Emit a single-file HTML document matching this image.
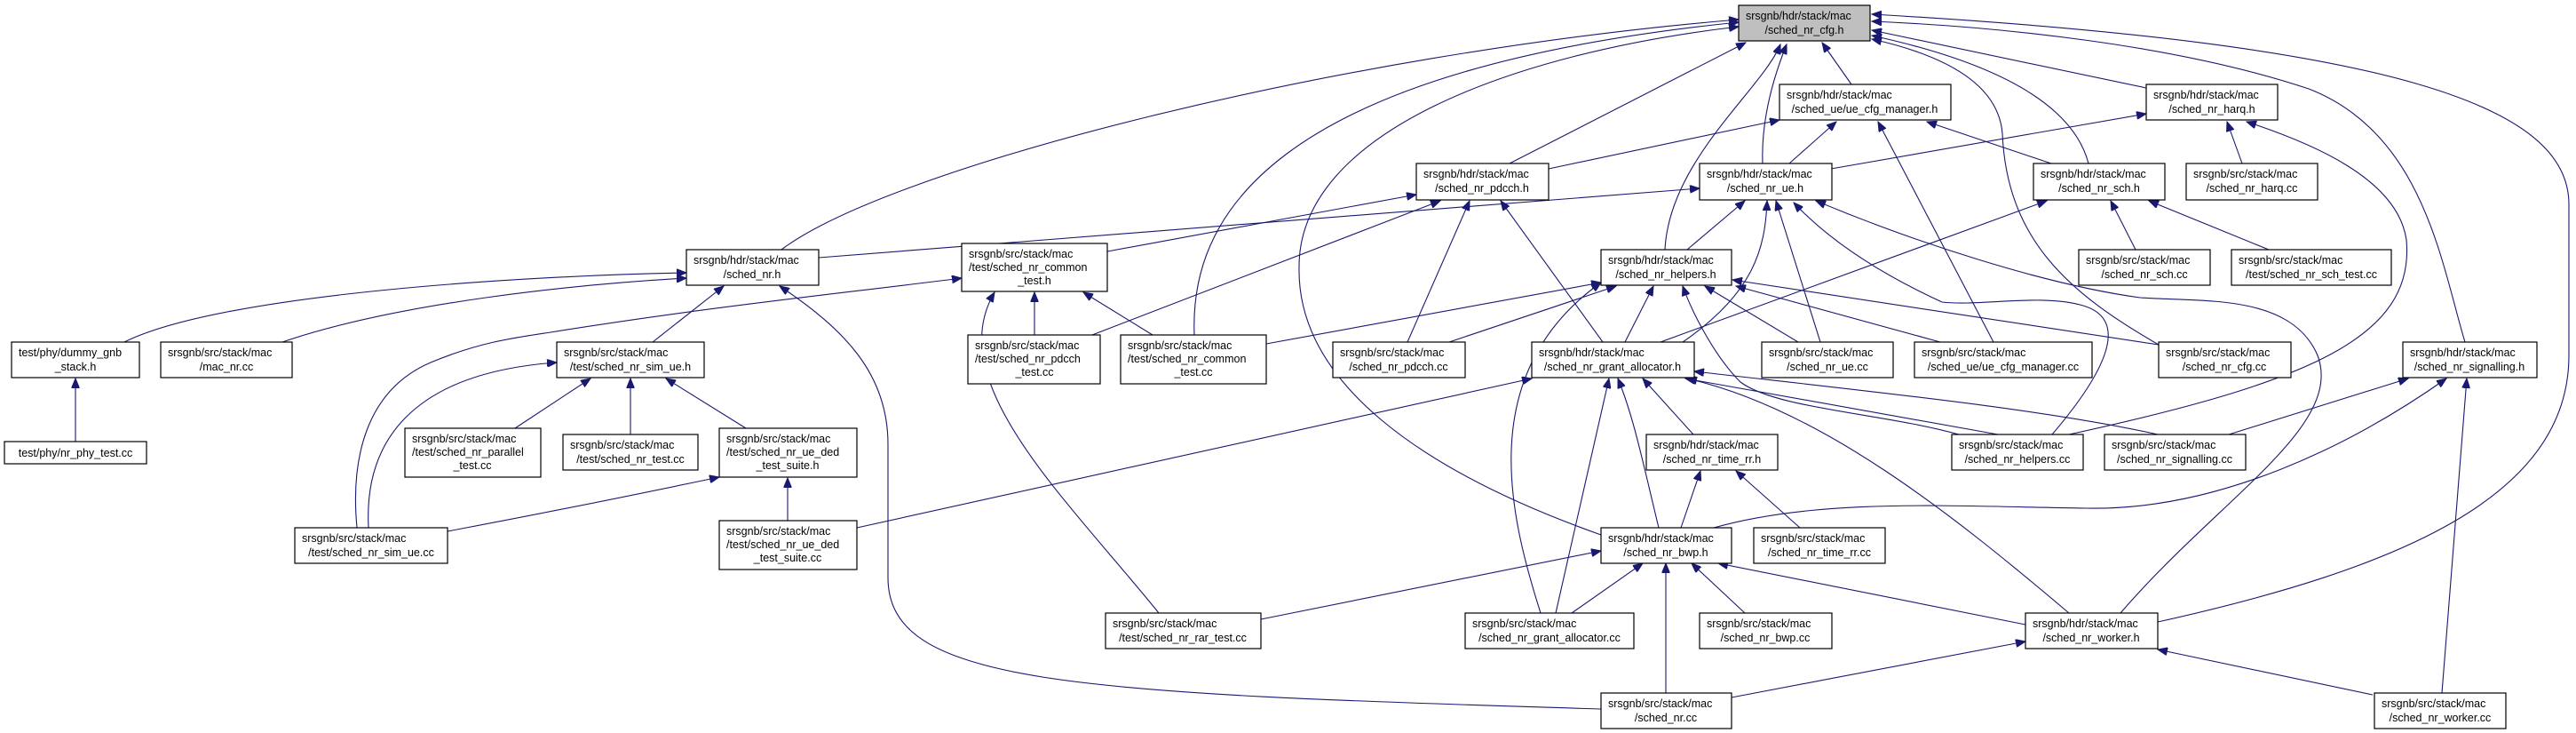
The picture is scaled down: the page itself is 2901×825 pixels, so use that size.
<!DOCTYPE html>
<html><head><meta charset="utf-8"><style>
html,body{margin:0;padding:0;background:#fff;}
svg{display:block;}
text{font-family:"Liberation Sans",sans-serif;font-size:12.5px;fill:#000;}
.n{fill:#fff;stroke:#000;stroke-width:1.2;}
.g{fill:#bfbfbf;stroke:#000;stroke-width:1.2;}
path.e{fill:none;stroke:#191970;stroke-width:1.1;marker-end:url(#a);}
</style></head><body>
<svg width="2901" height="825" viewBox="0 0 2901 825" xmlns="http://www.w3.org/2000/svg">
<defs><marker id="a" markerUnits="userSpaceOnUse" markerWidth="12" markerHeight="9" refX="11" refY="4.5" orient="auto"><path d="M0,0 L11,4.5 L0,9 z" fill="#191970" stroke="#191970"/></marker></defs>
<g>
<path class="e" d="M880,281 C1000,190 1500,60 1958,22"/>
<path class="e" d="M1345,377 C1340,250 1420,80 1958,25"/>
<path class="e" d="M1803,602 C1600,530 1460,430 1463,300 C1463,150 1700,60 1958,30"/>
<path class="e" d="M1700,184 L1966,48"/>
<path class="e" d="M1875,281 C1880,180 1985,100 2005,50"/>
<path class="e" d="M1985,184 C1983,130 2000,80 2012,50"/>
<path class="e" d="M2085,95 L2052,48"/>
<path class="e" d="M2417,99 L2108,34"/>
<path class="e" d="M2352,184 C2330,100 2200,60 2108,40"/>
<path class="e" d="M2431,388 C2330,330 2260,270 2255,150 C2250,90 2180,60 2108,44"/>
<path class="e" d="M2776,385 C2750,300 2730,150 2600,100 C2450,50 2250,30 2108,24"/>
<path class="e" d="M2430,700 C2700,640 2893,560 2893,400 L2893,230 C2893,120 2700,50 2108,16"/>
<path class="e" d="M2015,184 L2068,137"/>
<path class="e" d="M1744,190 L2004,135"/>
<path class="e" d="M2310,184 L2170,137"/>
<path class="e" d="M2245,385 L2115,137"/>
<path class="e" d="M2062,190 L2417,128"/>
<path class="e" d="M2525,184 L2508,137"/>
<path class="e" d="M2330,489 C2600,430 2720,380 2710,270 C2700,200 2600,160 2530,137"/>
<path class="e" d="M2405,281 L2377,226"/>
<path class="e" d="M2555,281 L2420,226"/>
<path class="e" d="M1870,385 L2305,226"/>
<path class="e" d="M1247,283 L1595,219"/>
<path class="e" d="M1230,377 L1622,226"/>
<path class="e" d="M1585,385 L1655,226"/>
<path class="e" d="M1805,385 L1690,226"/>
<path class="e" d="M922,290 L1914,212"/>
<path class="e" d="M1900,281 L1965,226"/>
<path class="e" d="M1895,385 C1975,330 1988,280 1990,226"/>
<path class="e" d="M2050,385 L2000,226"/>
<path class="e" d="M2311,489 C2370,420 2400,360 2346,344 C2300,330 2230,345 2187,340 C2100,300 2050,260 2020,228"/>
<path class="e" d="M2388,690 C2500,560 2640,480 2610,400 C2580,330 2480,340 2410,335 C2300,320 2150,270 2045,226"/>
<path class="e" d="M140,385 C250,330 600,310 773,307"/>
<path class="e" d="M318,385 C450,340 650,320 773,313"/>
<path class="e" d="M735,385 L815,322"/>
<path class="e" d="M1803,798 C1200,780 1000,770 1000,650 L1000,500 C1000,420 950,370 878,322"/>
<path class="e" d="M580,482 L665,426"/>
<path class="e" d="M710,489 L710,426"/>
<path class="e" d="M840,482 L750,426"/>
<path class="e" d="M415,594 C410,500 460,420 627,408"/>
<path class="e" d="M402,594 C395,520 410,440 485,408 C540,385 580,380 620,374 C800,345 950,330 1083,313"/>
<path class="e" d="M504,598 C600,580 700,560 810,537"/>
<path class="e" d="M887,586 L887,538"/>
<path class="e" d="M965,594 L1725,426"/>
<path class="e" d="M1165,377 L1165,329"/>
<path class="e" d="M1298,377 L1220,329"/>
<path class="e" d="M1305,690 C1200,560 1060,430 1120,329"/>
<path class="e" d="M1426,387 L1803,318"/>
<path class="e" d="M1632,385 L1820,322"/>
<path class="e" d="M1830,385 L1862,322"/>
<path class="e" d="M1735,690 C1700,580 1660,420 1803,318"/>
<path class="e" d="M2025,385 L1920,322"/>
<path class="e" d="M2185,385 L1955,322"/>
<path class="e" d="M2431,388 L1951,315"/>
<path class="e" d="M2206,489 C2120,465 2000,460 1960,430 C1930,400 1905,350 1895,322"/>
<path class="e" d="M1907,489 L1850,426"/>
<path class="e" d="M1868,594 C1850,520 1840,470 1822,426"/>
<path class="e" d="M1752,690 L1812,426"/>
<path class="e" d="M2250,489 L1898,426"/>
<path class="e" d="M2430,489 C2300,460 2100,440 1908,418"/>
<path class="e" d="M2330,690 C2200,580 2050,460 1900,426"/>
<path class="e" d="M1893,594 L1915,530"/>
<path class="e" d="M2027,594 L1955,530"/>
<path class="e" d="M1420,697 L1803,620"/>
<path class="e" d="M1770,690 L1850,634"/>
<path class="e" d="M1876,780 L1876,634"/>
<path class="e" d="M1965,690 L1905,634"/>
<path class="e" d="M2281,703 L1935,634"/>
<path class="e" d="M1930,594 C2050,560 2200,570 2350,572 C2500,575 2650,500 2755,426"/>
<path class="e" d="M1950,785 L2281,722"/>
<path class="e" d="M2672,782 L2430,731"/>
<path class="e" d="M2510,489 L2712,426"/>
<path class="e" d="M2750,780 L2778,426"/>
<path class="e" d="M85,497 L85,426"/>
</g>
<g>
<rect class="g" x="1958" y="6" width="148" height="40"/><text x="1966" y="22">srsgnb/hdr/stack/mac</text><text x="2032" y="38" text-anchor="middle">/sched_nr_cfg.h</text>
<rect class="n" x="2004" y="95" width="193" height="40"/><text x="2012" y="111">srsgnb/hdr/stack/mac</text><text x="2100" y="127" text-anchor="middle">/sched_ue/ue_cfg_manager.h</text>
<rect class="n" x="2417" y="95" width="148" height="40"/><text x="2425" y="111">srsgnb/hdr/stack/mac</text><text x="2491" y="127" text-anchor="middle">/sched_nr_harq.h</text>
<rect class="n" x="1595" y="184" width="149" height="41"/><text x="1603" y="200">srsgnb/hdr/stack/mac</text><text x="1669" y="216" text-anchor="middle">/sched_nr_pdcch.h</text>
<rect class="n" x="1914" y="184" width="149" height="41"/><text x="1922" y="200">srsgnb/hdr/stack/mac</text><text x="1988" y="216" text-anchor="middle">/sched_nr_ue.h</text>
<rect class="n" x="2290" y="184" width="148" height="41"/><text x="2298" y="200">srsgnb/hdr/stack/mac</text><text x="2364" y="216" text-anchor="middle">/sched_nr_sch.h</text>
<rect class="n" x="2462" y="184" width="148" height="41"/><text x="2470" y="200">srsgnb/src/stack/mac</text><text x="2536" y="216" text-anchor="middle">/sched_nr_harq.cc</text>
<rect class="n" x="773" y="281" width="149" height="40"/><text x="781" y="297">srsgnb/hdr/stack/mac</text><text x="847" y="313" text-anchor="middle">/sched_nr.h</text>
<rect class="n" x="1083" y="274" width="164" height="54"/><text x="1091" y="290">srsgnb/src/stack/mac</text><text x="1091" y="305">/test/sched_nr_common</text><text x="1165" y="320" text-anchor="middle">_test.h</text>
<rect class="n" x="1803" y="281" width="147" height="40"/><text x="1811" y="297">srsgnb/hdr/stack/mac</text><text x="1876" y="313" text-anchor="middle">/sched_nr_helpers.h</text>
<rect class="n" x="2341" y="281" width="148" height="40"/><text x="2349" y="297">srsgnb/src/stack/mac</text><text x="2415" y="313" text-anchor="middle">/sched_nr_sch.cc</text>
<rect class="n" x="2513" y="281" width="180" height="40"/><text x="2521" y="297">srsgnb/src/stack/mac</text><text x="2603" y="313" text-anchor="middle">/test/sched_nr_sch_test.cc</text>
<rect class="n" x="13" y="385" width="144" height="40"/><text x="21" y="401">test/phy/dummy_gnb</text><text x="85" y="417" text-anchor="middle">_stack.h</text>
<rect class="n" x="181" y="385" width="148" height="40"/><text x="189" y="401">srsgnb/src/stack/mac</text><text x="255" y="417" text-anchor="middle">/mac_nr.cc</text>
<rect class="n" x="627" y="385" width="166" height="40"/><text x="635" y="401">srsgnb/src/stack/mac</text><text x="710" y="417" text-anchor="middle">/test/sched_nr_sim_ue.h</text>
<rect class="n" x="1090" y="377" width="149" height="55"/><text x="1098" y="393">srsgnb/src/stack/mac</text><text x="1098" y="408">/test/sched_nr_pdcch</text><text x="1165" y="423" text-anchor="middle">_test.cc</text>
<rect class="n" x="1262" y="377" width="164" height="55"/><text x="1270" y="393">srsgnb/src/stack/mac</text><text x="1270" y="408">/test/sched_nr_common</text><text x="1344" y="423" text-anchor="middle">_test.cc</text>
<rect class="n" x="1501" y="385" width="149" height="40"/><text x="1509" y="401">srsgnb/src/stack/mac</text><text x="1575" y="417" text-anchor="middle">/sched_nr_pdcch.cc</text>
<rect class="n" x="1725" y="385" width="183" height="40"/><text x="1733" y="401">srsgnb/hdr/stack/mac</text><text x="1816" y="417" text-anchor="middle">/sched_nr_grant_allocator.h</text>
<rect class="n" x="1984" y="385" width="148" height="40"/><text x="1992" y="401">srsgnb/src/stack/mac</text><text x="2058" y="417" text-anchor="middle">/sched_nr_ue.cc</text>
<rect class="n" x="2156" y="385" width="200" height="40"/><text x="2164" y="401">srsgnb/src/stack/mac</text><text x="2256" y="417" text-anchor="middle">/sched_ue/ue_cfg_manager.cc</text>
<rect class="n" x="2431" y="385" width="149" height="40"/><text x="2439" y="401">srsgnb/src/stack/mac</text><text x="2505" y="417" text-anchor="middle">/sched_nr_cfg.cc</text>
<rect class="n" x="2706" y="385" width="151" height="40"/><text x="2714" y="401">srsgnb/hdr/stack/mac</text><text x="2781" y="417" text-anchor="middle">/sched_nr_signalling.h</text>
<rect class="n" x="5" y="497" width="160" height="25"/><text x="85" y="514" text-anchor="middle">test/phy/nr_phy_test.cc</text>
<rect class="n" x="456" y="482" width="153" height="55"/><text x="464" y="498">srsgnb/src/stack/mac</text><text x="464" y="513">/test/sched_nr_parallel</text><text x="532" y="528" text-anchor="middle">_test.cc</text>
<rect class="n" x="634" y="489" width="152" height="40"/><text x="642" y="505">srsgnb/src/stack/mac</text><text x="710" y="521" text-anchor="middle">/test/sched_nr_test.cc</text>
<rect class="n" x="810" y="482" width="155" height="55"/><text x="818" y="498">srsgnb/src/stack/mac</text><text x="818" y="513">/test/sched_nr_ue_ded</text><text x="887" y="528" text-anchor="middle">_test_suite.h</text>
<rect class="n" x="1854" y="489" width="148" height="40"/><text x="1862" y="505">srsgnb/hdr/stack/mac</text><text x="1928" y="521" text-anchor="middle">/sched_nr_time_rr.h</text>
<rect class="n" x="2198" y="489" width="148" height="40"/><text x="2206" y="505">srsgnb/src/stack/mac</text><text x="2272" y="521" text-anchor="middle">/sched_nr_helpers.cc</text>
<rect class="n" x="2370" y="489" width="159" height="40"/><text x="2378" y="505">srsgnb/src/stack/mac</text><text x="2449" y="521" text-anchor="middle">/sched_nr_signalling.cc</text>
<rect class="n" x="332" y="594" width="172" height="40"/><text x="340" y="610">srsgnb/src/stack/mac</text><text x="418" y="626" text-anchor="middle">/test/sched_nr_sim_ue.cc</text>
<rect class="n" x="810" y="586" width="155" height="55"/><text x="818" y="602">srsgnb/src/stack/mac</text><text x="818" y="617">/test/sched_nr_ue_ded</text><text x="887" y="632" text-anchor="middle">_test_suite.cc</text>
<rect class="n" x="1803" y="594" width="147" height="40"/><text x="1811" y="610">srsgnb/hdr/stack/mac</text><text x="1876" y="626" text-anchor="middle">/sched_nr_bwp.h</text>
<rect class="n" x="1975" y="594" width="148" height="40"/><text x="1983" y="610">srsgnb/src/stack/mac</text><text x="2049" y="626" text-anchor="middle">/sched_nr_time_rr.cc</text>
<rect class="n" x="1245" y="690" width="175" height="40"/><text x="1253" y="706">srsgnb/src/stack/mac</text><text x="1332" y="722" text-anchor="middle">/test/sched_nr_rar_test.cc</text>
<rect class="n" x="1650" y="690" width="190" height="40"/><text x="1658" y="706">srsgnb/src/stack/mac</text><text x="1745" y="722" text-anchor="middle">/sched_nr_grant_allocator.cc</text>
<rect class="n" x="1914" y="690" width="149" height="40"/><text x="1922" y="706">srsgnb/src/stack/mac</text><text x="1988" y="722" text-anchor="middle">/sched_nr_bwp.cc</text>
<rect class="n" x="2281" y="690" width="149" height="40"/><text x="2289" y="706">srsgnb/hdr/stack/mac</text><text x="2355" y="722" text-anchor="middle">/sched_nr_worker.h</text>
<rect class="n" x="1803" y="780" width="147" height="40"/><text x="1811" y="796">srsgnb/src/stack/mac</text><text x="1876" y="812" text-anchor="middle">/sched_nr.cc</text>
<rect class="n" x="2674" y="780" width="148" height="40"/><text x="2682" y="796">srsgnb/src/stack/mac</text><text x="2748" y="812" text-anchor="middle">/sched_nr_worker.cc</text>
</g>
</svg>
</body></html>
